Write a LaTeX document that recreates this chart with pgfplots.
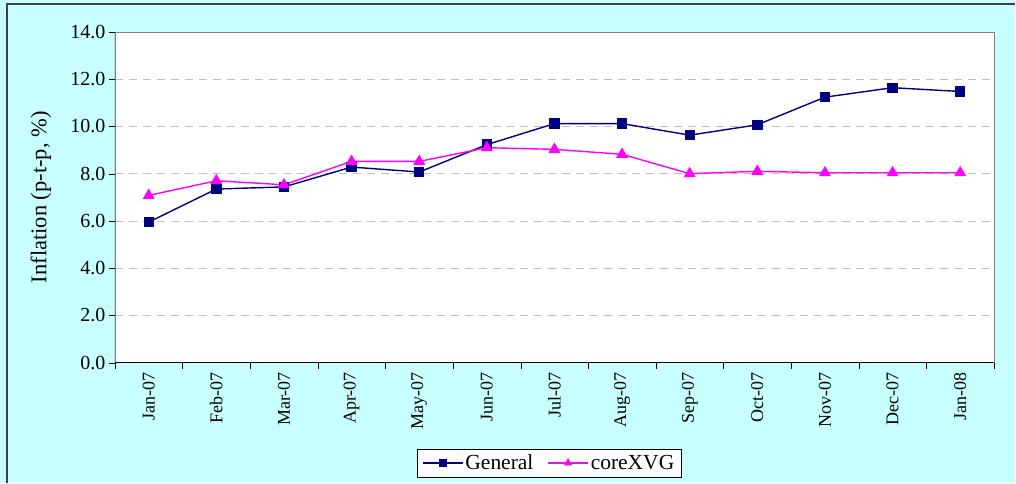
\documentclass[border=0pt]{standalone}
\usepackage{pgfplots}
\pgfplotsset{compat=1.18}
\usepackage{fontspec}
\setmainfont{Liberation Serif}
\definecolor{bgcyan}{RGB}{200,255,255}
\definecolor{navy}{RGB}{0,0,128}
\definecolor{mag}{RGB}{255,0,255}
\begin{document}
\begin{tikzpicture}[x=1pt,y=1pt]
\fill[bgcyan] (0,0) rectangle (1016,483);
\draw[line width=2pt, black!75] (7,0) -- (7,479) -- (1016,479);
\begin{axis}[at={(115pt,120pt)}, anchor=south west, scale only axis,
  width=880pt, height=331pt,
  xmin=-0.5, xmax=12.5, ymin=0, ymax=14,
  axis background/.style={fill=white},
  axis line style={gray},
  xtick={0,...,12},
  xticklabels={Jan-07,Feb-07,Mar-07,Apr-07,May-07,Jun-07,Jul-07,Aug-07,Sep-07,Oct-07,Nov-07,Dec-07,Jan-08},
  major x tick style={draw=none},
  minor xtick={-0.5,0.5,...,12.5},
  minor x tick style={black},
  ytick={0,2,...,14},
  y tick style={black},
  xtick pos=bottom, ytick pos=left,
  tick align=outside,
  major tick length=6pt, minor tick length=6pt,
  ymajorgrids, grid style={gray!50, dash pattern=on 8pt off 6pt},
  xticklabel style={rotate=90, anchor=east, font=\fontsize{18}{20}\selectfont},
  yticklabel style={font=\fontsize{20}{23}\selectfont, /pgf/number format/.cd, fixed, fixed zerofill, precision=1},
  /pgf/number format/assume math mode=true,
  ylabel={Inflation (p-t-p, \%)},
  ylabel style={at={(axis description cs:-0.0841,0.5)}, anchor=center, font=\fontsize{22.5}{25}\selectfont},
  legend style={at={(axis description cs:0.494,-0.3036)}, anchor=center, legend columns=2,
    draw=black, fill=white, font=\fontsize{21.5}{24}\selectfont, inner xsep=5pt, inner ysep=3.5pt,
    /tikz/every even column/.append style={column sep=12pt}},
  legend image code/.code={\draw[mark repeat=2, mark phase=2, mark size=3.5pt] plot coordinates {(0pt,0pt) (20pt,0pt) (40pt,0pt)};},
]
\addplot[navy, line width=1.4pt, mark=square*, mark size=4.5pt, mark options={solid}] coordinates {
(0,5.95) (1,7.35) (2,7.44) (3,8.28) (4,8.07) (5,9.23) (6,10.12) (7,10.12) (8,9.63) (9,10.07) (10,11.24) (11,11.64) (12,11.48)};
\addlegendentry{General}
\addplot[mag, line width=1.4pt, mark=triangle*, mark size=5.5pt, mark options={solid}] coordinates {
(0,7.08) (1,7.7) (2,7.53) (3,8.52) (4,8.52) (5,9.1) (6,9.03) (7,8.82) (8,8.0) (9,8.1) (10,8.04) (11,8.04) (12,8.04)};
\addlegendentry{coreXVG}
\draw[black, line width=1pt] (rel axis cs:0,1) -- (rel axis cs:0,0) -- (rel axis cs:1,0);
\end{axis}
\end{tikzpicture}
\end{document}
